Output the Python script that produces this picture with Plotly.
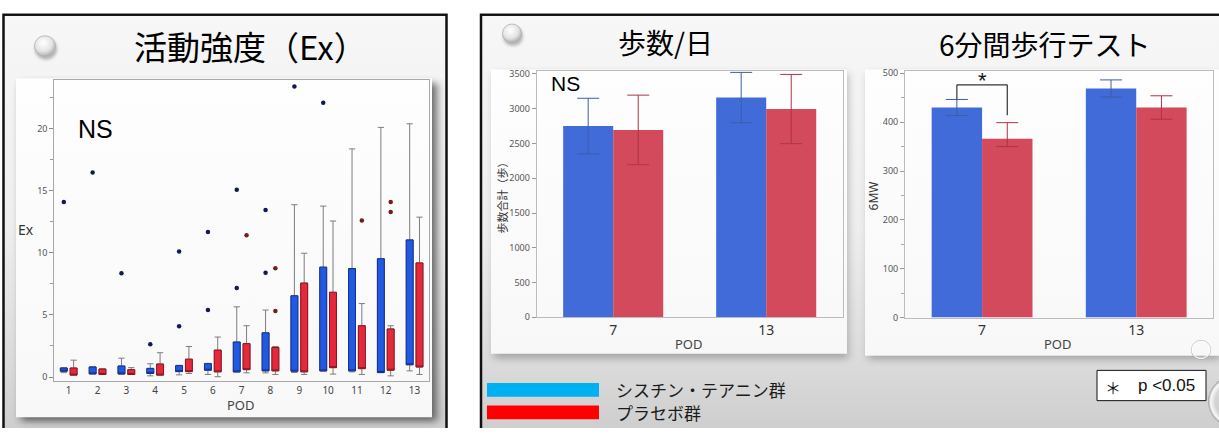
import base64
import plotly.graph_objects as go

W, H = 1219, 434

# ---------------- 活動強度 (Ex) : box plot per post-operative day ----------------
pod_days = list(range(1, 14))

# シスチン・テアニン群 (quartiles and whisker ends)
blue_q1 = [0.47, 0.26, 0.26, 0.29, 0.44, 0.55, 0.42, 0.50, 0.47, 0.50, 0.50, 0.37, 0.99]
blue_q3 = [0.73, 0.81, 0.89, 0.70, 0.92, 1.08, 2.82, 3.56, 6.54, 8.84, 8.73, 9.52, 11.03]
blue_low = [0.36, 0.24, 0.21, 0.10, 0.18, 0.21, 0.40, 0.34, 0.37, 0.48, 0.42, 0.35, 0.50]
blue_high = [0.75, 0.83, 1.52, 1.07, 0.95, 1.10, 5.65, 5.39, 13.86, 13.75, 18.35, 20.08, 20.37]
blue_out_pod = [1, 2, 3, 4, 5, 5, 6, 6, 7, 7, 8, 8, 9, 10]
blue_out_ex = [14.07, 16.45, 8.34, 2.65, 4.08, 10.09, 5.39, 11.66, 7.16, 15.06, 8.39, 13.44, 23.37, 22.07]

# プラセボ群
red_q1 = [0.16, 0.21, 0.21, 0.16, 0.44, 0.42, 0.60, 0.50, 0.42, 0.76, 0.68, 0.55, 0.81]
red_q3 = [0.73, 0.65, 0.60, 1.05, 1.44, 2.17, 2.69, 2.38, 7.56, 6.82, 4.13, 3.87, 9.18]
red_low = [0.16, 0.21, 0.21, 0.16, 0.29, 0.03, 0.34, 0.21, 0.21, 0.24, 0.21, 0.10, 0.21]
red_high = [1.36, 0.65, 0.76, 1.96, 2.46, 3.22, 4.13, 2.46, 9.96, 12.55, 5.91, 4.13, 12.86]
red_out_pod = [7, 8, 8, 11, 12, 12]
red_out_ex = [11.40, 5.31, 8.76, 12.60, 13.28, 14.07]

ex_ticks = [0, 5, 10, 15, 20]

# ---------------- 歩数/日 and 6分間歩行テスト : mean with error bars ----------------
bar_pods = ["7", "13"]
steps_blue = [2750, 3160]
steps_blue_sd = [400, 362]
steps_red = [2695, 2995]
steps_red_sd = [500, 498]

mw_blue = [430, 469]
mw_blue_sd = [16.5, 17.5]
mw_red = [366, 430]
mw_red_up = [33, 24]
mw_red_down = [16, 24]

# ---------------- styling ----------------
BOX_BLUE, BOX_BLUE_EDGE, OUT_BLUE = "#2159e3", "#13308f", "#101a55"
BOX_RED, BOX_RED_EDGE, OUT_RED = "#e6283b", "#8c1522", "#7a1a1a"
WHISKER = "#7d7d7d"
BAR_BLUE, BAR_RED = "#416bd8", "#d24a5b"
ERR_BLUE, ERR_RED = "#3d5da8", "#ad3446"
BOX_SHIFT, BOX_W = 0.17, 0.24
BARGAP = 0.346
JP = "Noto Sans CJK JP"
TICKF = "Noto Sans"


def px(x):
    return x / W


def py(y):
    return 1 - y / H


# slide background: panels, cards with soft shadows, knobs and bubbles
svg = f"""<svg xmlns="http://www.w3.org/2000/svg" width="{W}" height="{H}" viewBox="0 0 {W} {H}">
<defs>
<linearGradient id="panel" x1="0" y1="0" x2="0" y2="1">
<stop offset="0" stop-color="#f7f7f7"/><stop offset="0.5" stop-color="#eeeeee"/>
<stop offset="0.82" stop-color="#dadada"/><stop offset="1" stop-color="#cbcbcb"/>
</linearGradient>
<linearGradient id="card" x1="0" y1="0" x2="0" y2="1">
<stop offset="0" stop-color="#fefefe"/><stop offset="1" stop-color="#f8f8f8"/>
</linearGradient>
<radialGradient id="knob" cx="0.42" cy="0.35" r="0.75">
<stop offset="0" stop-color="#ffffff"/><stop offset="0.55" stop-color="#e4e4e4"/><stop offset="1" stop-color="#9a9a9a"/>
</radialGradient>
<radialGradient id="bubble" cx="0.5" cy="0.5" r="0.5">
<stop offset="0.72" stop-color="#ffffff" stop-opacity="0"/><stop offset="0.9" stop-color="#ffffff" stop-opacity="0.85"/>
<stop offset="1" stop-color="#8f8f8f" stop-opacity="0.8"/>
</radialGradient>
<filter id="blur" x="-20%" y="-20%" width="140%" height="140%"><feGaussianBlur stdDeviation="4"/></filter>
<filter id="blur2" x="-50%" y="-50%" width="200%" height="200%"><feGaussianBlur stdDeviation="1.5"/></filter>
</defs>
<rect width="{W}" height="{H}" fill="#ffffff"/>
<rect x="3.5" y="11" width="443" height="440" fill="url(#panel)" stroke="#111111" stroke-width="2.5"/>
<rect x="481" y="11" width="760" height="440" fill="url(#panel)" stroke="#111111" stroke-width="2.5"/>
<rect x="21" y="81" width="416" height="346" fill="#444444" opacity="0.8" filter="url(#blur)"/>
<rect x="16" y="76" width="416" height="347" fill="url(#card)"/>
<rect x="494" y="71" width="354" height="292" fill="#666666" opacity="0.45" filter="url(#blur)"/>
<rect x="491" y="67" width="356" height="291" fill="url(#card)"/>
<rect x="868" y="71" width="352" height="293" fill="#666666" opacity="0.45" filter="url(#blur)"/>
<rect x="865" y="67" width="354" height="293" fill="url(#card)"/>
<circle cx="46" cy="46" r="11" fill="#777777" opacity="0.5" filter="url(#blur2)"/>
<circle cx="45" cy="43" r="10.5" fill="url(#knob)" stroke="#b0b0b0" stroke-width="0.8"/>
<circle cx="513" cy="33" r="10" fill="#777777" opacity="0.5" filter="url(#blur2)"/>
<circle cx="512" cy="30" r="9.5" fill="url(#knob)" stroke="#b0b0b0" stroke-width="0.8"/>
<circle cx="1201" cy="354" r="10" fill="url(#bubble)"/>
<circle cx="1234" cy="407" r="26" fill="url(#bubble)"/>
</svg>"""
bg_uri = "data:image/svg+xml;base64," + base64.b64encode(svg.encode("utf-8")).decode("ascii")

fig = go.Figure()

# ---- box plot (left) ----
blue_x = [d - BOX_SHIFT for d in pod_days]
red_x = [d + BOX_SHIFT for d in pod_days]


def add_boxes(xpos, q1, q3, low, high, fill, edge):
    # whiskers in grey; the chart marks no median, so it sits on the lower quartile
    fig.add_trace(go.Box(
        x=xpos, q1=q1, median=q1, q3=q3, lowerfence=low, upperfence=high,
        width=BOX_W, whiskerwidth=0.9, boxpoints=False,
        line=dict(color=WHISKER, width=1), fillcolor="rgba(0,0,0,0)",
        xaxis="x", yaxis="y", showlegend=False, hoverinfo="skip"))
    # coloured box body on top
    fig.add_trace(go.Box(
        x=xpos, q1=q1, median=q1, q3=q3, lowerfence=q1, upperfence=q3,
        width=BOX_W, whiskerwidth=0, boxpoints=False,
        line=dict(color=edge, width=1), fillcolor=fill,
        xaxis="x", yaxis="y", showlegend=False, hoverinfo="skip"))


add_boxes(blue_x, blue_q1, blue_q3, blue_low, blue_high, BOX_BLUE, BOX_BLUE_EDGE)
add_boxes(red_x, red_q1, red_q3, red_low, red_high, BOX_RED, BOX_RED_EDGE)

fig.add_trace(go.Scatter(
    x=[d - BOX_SHIFT for d in blue_out_pod], y=blue_out_ex, mode="markers",
    marker=dict(color=OUT_BLUE, size=4.5), xaxis="x", yaxis="y", showlegend=False))
fig.add_trace(go.Scatter(
    x=[d + BOX_SHIFT for d in red_out_pod], y=red_out_ex, mode="markers",
    marker=dict(color=OUT_RED, size=4.5), xaxis="x", yaxis="y", showlegend=False))

# ---- bar charts ----
for xa, ya, b, b_up, b_dn, r, r_up, r_dn in [
        ("x2", "y2", steps_blue, steps_blue_sd, steps_blue_sd, steps_red, steps_red_sd, steps_red_sd),
        ("x3", "y3", mw_blue, mw_blue_sd, mw_blue_sd, mw_red, mw_red_up, mw_red_down)]:
    fig.add_trace(go.Bar(
        x=bar_pods, y=b, offsetgroup="blue", marker=dict(color=BAR_BLUE, line=dict(width=0)),
        error_y=dict(type="data", symmetric=False, array=b_up, arrayminus=b_dn,
                     color=ERR_BLUE, thickness=1, width=11),
        xaxis=xa, yaxis=ya, showlegend=False))
    fig.add_trace(go.Bar(
        x=bar_pods, y=r, offsetgroup="red", marker=dict(color=BAR_RED, line=dict(width=0)),
        error_y=dict(type="data", symmetric=False, array=r_up, arrayminus=r_dn,
                     color=ERR_RED, thickness=1, width=11),
        xaxis=xa, yaxis=ya, showlegend=False))

# significance bracket between the two POD 7 bars of the 6MW chart
half_bar = (1 - BARGAP) / 4
xb, xr = -half_bar, half_bar
blue_top = mw_blue[0] + mw_blue_sd[0]
red_top = mw_red[0] + mw_red_up[0]
bracket_y = max(blue_top, red_top) + 30
shapes = [
    dict(type="line", xref="x3", yref="y3", x0=xb, x1=xb, y0=blue_top, y1=bracket_y,
         line=dict(color="#333333", width=1.2)),
    dict(type="line", xref="x3", yref="y3", x0=xb, x1=xr, y0=bracket_y, y1=bracket_y,
         line=dict(color="#333333", width=1.2)),
    dict(type="line", xref="x3", yref="y3", x0=xr, x1=xr, y0=bracket_y, y1=red_top + 15,
         line=dict(color="#333333", width=1.2)),
]

# legend keys and p-value box
shapes += [
    dict(type="rect", xref="paper", yref="paper", x0=px(487), x1=px(599), y0=py(402), y1=py(388),
         fillcolor="#00b0f0", line=dict(width=0)),
    dict(type="rect", xref="paper", yref="paper", x0=px(487), x1=px(599), y0=py(425), y1=py(411),
         fillcolor="#ff0000", line=dict(width=0)),
    dict(type="rect", xref="paper", yref="paper", x0=px(1097), x1=px(1206), y0=py(406), y1=py(375),
         fillcolor="#ffffff", line=dict(color="#111111", width=1)),
]


def ann(text, x, y, size, color="#000000", family=JP, xanchor="center", angle=0, **kw):
    return dict(text=text, x=px(x), y=py(y), xref="paper", yref="paper", showarrow=False,
                xanchor=xanchor, yanchor="middle", textangle=angle,
                font=dict(size=size, color=color, family=family), **kw)


annotations = [
    ann("活動強度（Ex）", 250, 43, 33),
    ann("歩数/日", 665, 39, 28),
    ann("6分間歩行テスト", 1045, 41, 28),
    ann("NS", 76, 128, 25, family="Liberation Sans", xanchor="left"),
    ann("NS", 549, 81, 21, family="Liberation Sans", xanchor="left"),
    ann("Ex", 26, 231, 14, color="#333333", family=TICKF),
    ann("POD", 241, 410, 13, color="#444444", family=TICKF),
    ann("POD", 689, 348, 13, color="#444444", family=TICKF),
    ann("POD", 1058, 348, 13, color="#444444", family=TICKF),
    ann("歩数合計（歩）", 502, 196, 11, color="#333333", angle=-90),
    ann("6MW", 873, 197, 12, color="#333333", family=TICKF, angle=-90),
    ann("シスチン・テアニン群", 614, 395, 17, color="#1a1a1a", xanchor="left"),
    ann("プラセボ群", 614, 418, 17, color="#1a1a1a", xanchor="left"),
    ann("＊", 1113, 392, 16, color="#111111"),
    ann("p <0.05", 1136, 391, 17, color="#111111", family="Liberation Sans", xanchor="left"),
    dict(text="*", x=0, y=py(63), xref="x3", yref="paper", showarrow=False,
         xanchor="center", yanchor="top",
         font=dict(size=22, color="#111111", family="Liberation Sans")),
]

axis_common = dict(showgrid=False, zeroline=False, showline=True, mirror=True, fixedrange=True)

fig.update_layout(
    width=W, height=H, autosize=False,
    margin=dict(l=0, r=0, t=0, b=0),
    paper_bgcolor="#ffffff", plot_bgcolor="rgba(0,0,0,0)",
    barmode="group", bargap=BARGAP, bargroupgap=0, boxmode="overlay",
    showlegend=False,
    images=[dict(source=bg_uri, xref="paper", yref="paper", x=0, y=1, sizex=1, sizey=1,
                 xanchor="left", yanchor="top", sizing="stretch", layer="below")],
    shapes=shapes,
    annotations=annotations,
    xaxis=dict(domain=[px(54.3), px(429)], range=[0.5, 13.5], tickmode="array",
               tickvals=pod_days, ticktext=[str(d) for d in pod_days], ticks="",
               tickfont=dict(size=10, color="#444444", family=TICKF),
               linecolor="#a8a8a8", anchor="y", **axis_common),
    yaxis=dict(domain=[py(385.7), py(78.3)], range=[-0.3, 23.85], tickmode="array",
               tickvals=ex_ticks, ticks="outside", ticklen=4, tickcolor="#888888",
               minor=dict(dtick=2.5, tick0=0, ticks="outside", ticklen=3, tickcolor="#999999"),
               tickfont=dict(size=9, color="#555555", family=TICKF),
               linecolor="#a8a8a8", anchor="x", **axis_common),
    xaxis2=dict(domain=[px(536.7), px(842.7)], type="category", range=[-0.5, 1.5], ticks="",
                tickfont=dict(size=14, color="#333333", family=TICKF),
                linecolor="#bcbcbc", anchor="y2", **axis_common),
    yaxis2=dict(domain=[py(320.7), py(68.3)], range=[0, 3546], dtick=500, tick0=0,
                ticks="outside", ticklen=4, tickcolor="#999999",
                tickfont=dict(size=9, color="#555555", family=TICKF),
                linecolor="#bcbcbc", anchor="x2", **axis_common),
    xaxis3=dict(domain=[px(905), px(1213.3)], type="category", range=[-0.5, 1.5], ticks="",
                tickfont=dict(size=14, color="#333333", family=TICKF),
                linecolor="#bcbcbc", anchor="y3", **axis_common),
    yaxis3=dict(domain=[py(321), py(68.3)], range=[0, 505.3], dtick=100, tick0=0,
                ticks="outside", ticklen=4, tickcolor="#999999",
                minor=dict(dtick=50, tick0=0, ticks="outside", ticklen=3, tickcolor="#aaaaaa"),
                tickfont=dict(size=9, color="#555555", family=TICKF),
                linecolor="#bcbcbc", anchor="x3", **axis_common),
)

fig.write_html("out.html")
